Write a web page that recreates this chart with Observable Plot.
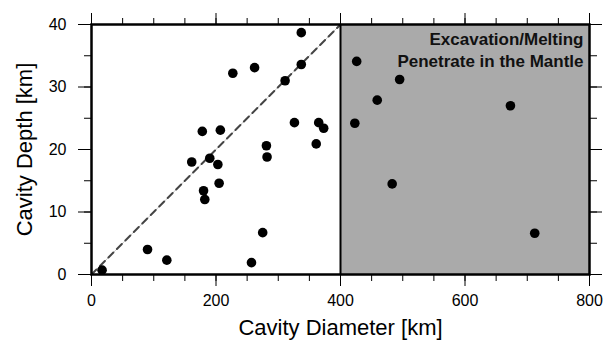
<!DOCTYPE html>
<html>
<head>
<meta charset="utf-8">
<script src="https://cdn.jsdelivr.net/npm/d3@7"></script>
<script src="https://cdn.jsdelivr.net/npm/@observablehq/plot@0.6"></script>
<style>
  body { margin: 0; background: #fff; }
  #chart svg { display: block; }
</style>
</head>
<body>
<div id="chart"></div>
<script>
// Cavity diameter [km] and depth [km] for each crater
const diameter = [17, 90, 121, 257, 275, 161, 178, 180, 182, 190, 203, 205, 207, 227, 262, 281, 282, 311, 326, 337, 337, 361, 365, 373, 423, 426, 459, 483, 495, 673, 712];
const depth    = [0.7, 4.0, 2.3, 1.9, 6.7, 18.0, 22.9, 13.4, 12.0, 18.6, 17.6, 14.6, 23.1, 32.2, 33.1, 20.6, 18.8, 31.0, 24.3, 38.7, 33.6, 20.9, 24.3, 23.4, 24.2, 34.1, 27.9, 14.5, 31.2, 27.0, 6.6];

// Mantle penetration zone (diameter range) and 1:1 reference line
const mantleZone = [400, 800];
const refLineX = [0, 400];
const refLineY = [0, 40];

const xMajorTicks = [0, 200, 400, 600, 800];
const xMinorTicks = d3.range(0, 801, 50);
const yMajorTicks = [0, 10, 20, 30, 40];
const yMinorTicks = d3.range(0, 41, 5);

const xTitle = "Cavity Diameter [km]";
const yTitle = "Cavity Depth [km]";
const legendLines = ["Excavation/Melting", "Penetrate in the Mantle"];

const points = diameter.map((d, i) => ({x: d, y: depth[i]}));
const refLine = refLineX.map((d, i) => ({x: d, y: refLineY[i]}));
const zone = [{x1: mantleZone[0], x2: mantleZone[1]}];

const font = "'Liberation Sans', Arial, Helvetica, sans-serif";

const chart = Plot.plot({
  width: 611,
  height: 343,
  marginLeft: 91,
  marginRight: 22,
  marginTop: 24,
  marginBottom: 69,
  style: {fontFamily: font, fontSize: "16px", color: "#000", background: "#fff"},
  x: {domain: [0, 800]},
  y: {domain: [0, 40]},
  marks: [
    Plot.rect(zone, {x1: "x1", x2: "x2", y1: 0, y2: 40, fill: "#aaaaaa"}),
    Plot.line(refLine, {x: "x", y: "y", stroke: "#c8c8c8", strokeWidth: 1}),
    Plot.line(refLine, {x: "x", y: "y", stroke: "#444", strokeWidth: 2, strokeDasharray: "7,5"}),
    Plot.ruleX([mantleZone[0]], {stroke: "#000", strokeWidth: 2}),
    Plot.dot(points, {x: "x", y: "y", r: 4.8, fill: "#000", stroke: "none"}),
    Plot.frame({stroke: "#000", strokeWidth: 2.5}),
    // minor ticks
    Plot.axisX({anchor: "bottom", ticks: xMinorTicks, tickSize: 7, text: null, label: null}),
    Plot.axisX({anchor: "top", ticks: xMinorTicks, tickSize: 7, text: null, label: null}),
    Plot.axisY({anchor: "left", ticks: yMinorTicks, tickSize: 7, text: null, label: null}),
    Plot.axisY({anchor: "right", ticks: yMinorTicks, tickSize: 7, text: null, label: null}),
    // major ticks
    Plot.axisX({anchor: "bottom", ticks: xMajorTicks, tickSize: 12, tickPadding: 8, fontSize: 16, label: null}),
    Plot.axisX({anchor: "top", ticks: xMajorTicks, tickSize: 12, text: null, label: null}),
    Plot.axisY({anchor: "left", ticks: yMajorTicks, tickSize: 13, tickPadding: 12, fontSize: 16, label: null}),
    Plot.axisY({anchor: "right", ticks: yMajorTicks, tickSize: 12, text: null, label: null}),
    // titles
    Plot.text([xTitle], {frameAnchor: "bottom", dy: 53, lineAnchor: "middle", fontSize: 22, fill: "#000"}),
    Plot.text([yTitle], {frameAnchor: "left", dx: -67, rotate: -90, lineAnchor: "middle", textAnchor: "middle", fontSize: 22, fill: "#000"}),
    // legend
    Plot.text([legendLines.join("\n")], {frameAnchor: "top-right", textAnchor: "end", lineAnchor: "top", dx: -6, dy: 6, lineHeight: 1.24, fontSize: 17, fontWeight: "bold", fill: "#111"})
  ]
});
document.getElementById("chart").appendChild(chart);
</script>
</body>
</html>
